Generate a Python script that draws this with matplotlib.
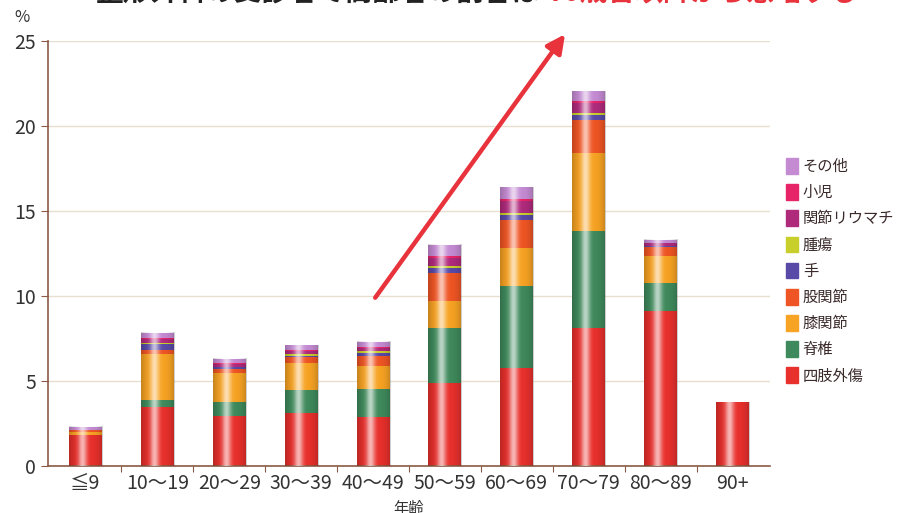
import matplotlib
matplotlib.use("Agg")
import matplotlib.pyplot as plt
import matplotlib.patches as mpatches
import numpy as np

plt.rcParams['font.family'] = ['Noto Sans CJK JP', 'DejaVu Sans']

# age groups and share (%) of each diagnosis group, bottom to top
ages = ['≦9', '10〜19', '20〜29', '30〜39', '40〜49', '50〜59', '60〜69', '70〜79', '80〜89', '90+']
trauma = [1.8, 3.5, 2.95, 3.1, 2.9, 4.9, 5.75, 8.1, 9.1, 3.75]      # 四肢外傷
spine = [0.0, 0.4, 0.8, 1.35, 1.65, 3.2, 4.85, 5.7, 1.65, 0.0]      # 脊椎
knee = [0.2, 2.7, 1.75, 1.6, 1.35, 1.6, 2.2, 4.6, 1.6, 0.0]         # 膝関節
hip = [0.1, 0.2, 0.2, 0.35, 0.6, 1.65, 1.65, 1.95, 0.55, 0.0]       # 股関節
hand = [0.0, 0.35, 0.1, 0.1, 0.15, 0.3, 0.3, 0.3, 0.05, 0.0]        # 手
tumor = [0.0, 0.1, 0.05, 0.1, 0.1, 0.1, 0.15, 0.1, 0.0, 0.0]        # 腫瘍
ra = [0.0, 0.2, 0.15, 0.15, 0.2, 0.5, 0.7, 0.6, 0.15, 0.0]          # 関節リウマチ
child = [0.0, 0.1, 0.05, 0.05, 0.05, 0.1, 0.1, 0.1, 0.0, 0.0]       # 小児
other = [0.2, 0.3, 0.25, 0.3, 0.3, 0.65, 0.7, 0.6, 0.2, 0.0]        # その他

series = [
    ('四肢外傷', trauma, '#e8302c'),
    ('脊椎', spine, '#3f8a5c'),
    ('膝関節', knee, '#f7a323'),
    ('股関節', hip, '#ef5524'),
    ('手', hand, '#5a4aa8'),
    ('腫瘍', tumor, '#c9cf2a'),
    ('関節リウマチ', ra, '#b02a7c'),
    ('小児', child, '#e82468'),
    ('その他', other, '#c48bd2'),
]

fig = plt.figure(figsize=(9.16, 5.13), dpi=100)
ax = fig.add_axes([48 / 916, 1 - 466 / 513, 722 / 916, 425 / 513])

x = np.arange(len(ages))
w = 0.46
bottom = np.zeros(len(ages))
handles = []
for name, vals, col in series:
    vals = np.array(vals)
    ax.bar(x, vals, w, bottom=bottom, color=col, edgecolor='none', zorder=2)
    bottom += vals
    handles.append(mpatches.Patch(color=col, label=name))

# cylinder-like shading on each bar
t = np.linspace(0, 1, 60)
hl = np.zeros((1, 60, 4))
hl[..., :3] = 1.0
hl[0, :, 3] = 0.65 * np.exp(-((t - 0.4) / 0.13) ** 2)
dk = np.zeros((1, 60, 4))
dk[0, :, 3] = 0.2 * (np.abs(t - 0.5) * 2) ** 3
for xi, top in zip(x, bottom):
    for img in (dk, hl):
        ax.imshow(img, extent=(xi - w / 2, xi + w / 2, 0, top), aspect='auto',
                  interpolation='bilinear', zorder=3)

ax.set_xlim(-0.52, 9.52)
ax.set_ylim(0, 25)
ax.set_yticks([0, 5, 10, 15, 20, 25])
ax.grid(axis='y', color='#e9dfcf', lw=1, zorder=0)
ax.set_axisbelow(True)

ax.set_xticks(np.arange(0.5, 9, 1))
ax.set_xticklabels([])
ax.set_xticks(x, minor=True)
ax.set_xticklabels(ages, minor=True, fontsize=14, color='#333333')
ax.tick_params(axis='x', which='major', length=4, color='#8a5a44')
ax.tick_params(axis='x', which='minor', length=0, pad=5)
ax.tick_params(axis='y', length=5, color='#8a5a44', labelsize=14, labelcolor='#333333')

for s in ('top', 'right'):
    ax.spines[s].set_visible(False)
for s in ('left', 'bottom'):
    ax.spines[s].set_color('#8a5a44')
    ax.spines[s].set_linewidth(1.2)

ax.set_xlabel('年齢', fontsize=11, color='#333333', labelpad=4)
fig.text(14 / 916, 1 - 22 / 513, '%', fontsize=12, color='#333333')

# rise from the 40s to the 70s
ax.annotate('', xy=(6.67, 25.4), xytext=(4.03, 9.9), annotation_clip=False,
            arrowprops=dict(arrowstyle='-|>,head_length=1.1,head_width=0.55',
                            color='#e8323c', lw=3.2, shrinkA=0, shrinkB=0))

fig.text(95 / 916, 1 - 7 / 513, '整形外科の受診者で高齢者の割合は',
         fontsize=20, fontweight='bold', color='#222222', va='bottom')
fig.text(548 / 916, 1 - 7 / 513, '70歳台以降から急増する',
         fontsize=20, fontweight='bold', color='#e8323c', va='bottom')

fig.legend(handles=handles[::-1], loc='upper left', bbox_to_anchor=(780 / 916, 1 - 152 / 513),
           frameon=False, fontsize=11, handlelength=0.8, handleheight=1.2,
           handletextpad=0.3, labelspacing=0.6, borderaxespad=0, labelcolor='#3a2a2a')

fig.savefig('out.png', dpi=100)
